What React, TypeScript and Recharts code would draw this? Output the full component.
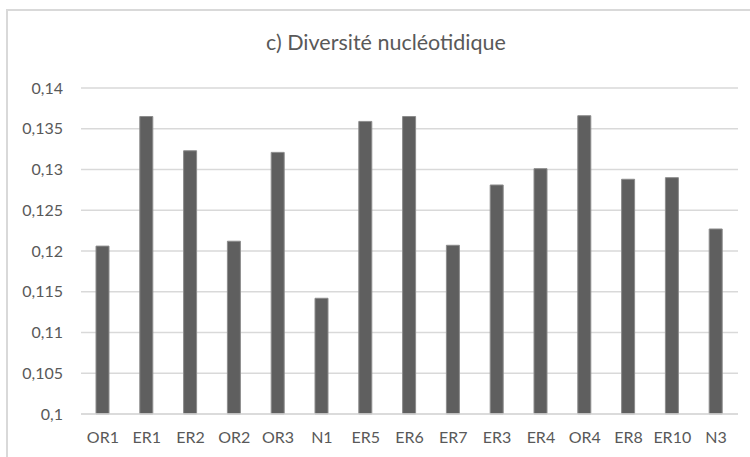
import React from "react";
import { BarChart, Bar, XAxis, YAxis, CartesianGrid } from "recharts";

const categories = ["OR1", "ER1", "ER2", "OR2", "OR3", "N1", "ER5", "ER6", "ER7", "ER3", "ER4", "OR4", "ER8", "ER10", "N3"];
const diversity = [0.1206, 0.1365, 0.1323, 0.1212, 0.1321, 0.1142, 0.1359, 0.1365, 0.1207, 0.1281, 0.1301, 0.1366, 0.1288, 0.129, 0.1227];
const yTicks = [0.1, 0.105, 0.11, 0.115, 0.12, 0.125, 0.13, 0.135, 0.14];
const title = "c) Diversité nucléotidique";

const data = categories.map((name, i) => ({ name, value: diversity[i] }));

const FONT = "Lato, 'Open Sans', sans-serif";
const TEXT = "#595959";

export default function App() {
  return (
    <div style={{ position: "absolute", left: 0, top: 0, width: 750, height: 457, overflow: "hidden", background: "#fff" }}>
      <div
        style={{
          position: "absolute",
          left: 6,
          top: 9,
          width: 800,
          height: 600,
          border: "2px solid #d9d9d9",
          boxSizing: "border-box",
        }}
      />
      <svg width={750} height={70} style={{ position: "absolute", left: 0, top: 0 }}>
        <text x={386} y={50} textAnchor="middle" fontFamily={FONT} fontSize={21.5} fill={TEXT}>
          {title}
        </text>
      </svg>
      <div style={{ position: "absolute", left: 0, top: 0 }}>
        <BarChart width={750} height={457} data={data} margin={{ top: 88, right: 12, bottom: 13, left: 0 }}>
          <CartesianGrid vertical={false} stroke="#d9d9d9" strokeWidth={1.5} />
          <XAxis
            dataKey="name"
            height={30}
            interval={0}
            tickLine={false}
            tickSize={0}
            tickMargin={18}
            axisLine={{ stroke: "#d9d9d9", strokeWidth: 1.5 }}
            tick={{ fill: TEXT, fontSize: 16, fontFamily: FONT }}
          />
          <YAxis
            width={81}
            domain={[0.1, 0.14]}
            ticks={yTicks}
            interval={0}
            axisLine={false}
            tickLine={false}
            tickSize={0}
            tickMargin={18}
            tickFormatter={(v: number) => String(v).replace(".", ",")}
            tick={{ fill: TEXT, fontSize: 16, fontFamily: FONT }}
          />
          <Bar dataKey="value" fill="#5f5f5f" stroke="#8c8c8c" strokeWidth={1} barSize={13} isAnimationActive={false} />
        </BarChart>
      </div>
    </div>
  );
}
